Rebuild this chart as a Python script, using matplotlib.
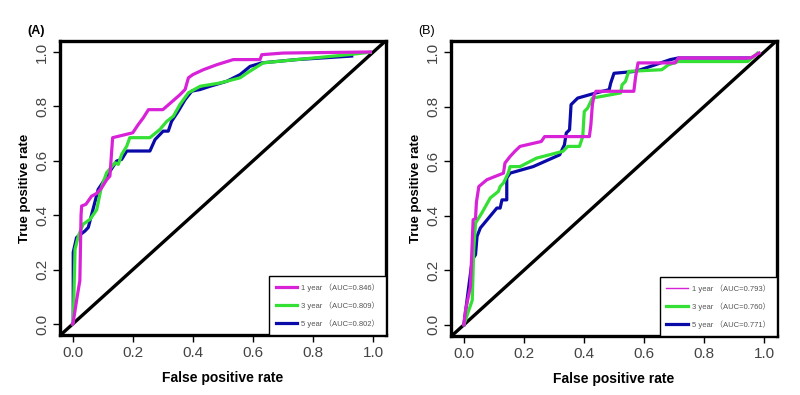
import matplotlib
matplotlib.use('Agg')
import matplotlib.pyplot as plt

plt.rcParams['font.family'] = ['Liberation Sans', 'Noto Sans CJK SC', 'DejaVu Sans']

# ---- data ----
# Panel A
a1_fpr = [0.0, 0.002, 0.015, 0.024, 0.028, 0.03, 0.044, 0.063, 0.08, 0.096, 0.113, 0.124, 0.133,
          0.2, 0.218, 0.235, 0.252, 0.30, 0.357, 0.374, 0.385, 0.40, 0.435, 0.479, 0.534,
          0.623, 0.629, 0.70, 0.99]
a1_tpr = [0.0, 0.007, 0.10, 0.16, 0.40, 0.434, 0.44, 0.47, 0.48, 0.50, 0.53, 0.544, 0.685,
          0.703, 0.733, 0.758, 0.788, 0.788, 0.843, 0.862, 0.905, 0.917, 0.935, 0.953, 0.972,
          0.972, 0.99, 0.996, 1.0]
a3_fpr = [0.0, 0.002, 0.008, 0.019, 0.035, 0.058, 0.08, 0.095, 0.113, 0.141, 0.152, 0.163, 0.18,
          0.19, 0.257, 0.29, 0.313, 0.335, 0.357, 0.385, 0.424, 0.49, 0.557, 0.579, 0.634,
          0.745, 0.917, 0.99]
a3_tpr = [0.0, 0.007, 0.275, 0.324, 0.367, 0.385, 0.42, 0.50, 0.556, 0.593, 0.587, 0.623, 0.654,
          0.685, 0.685, 0.715, 0.745, 0.764, 0.807, 0.85, 0.874, 0.886, 0.905, 0.922, 0.96,
          0.972, 0.99, 0.999]
a5_fpr = [0.0, 0.002, 0.002, 0.013, 0.041, 0.052, 0.085, 0.096, 0.135, 0.146, 0.163, 0.18, 0.257,
          0.274, 0.301, 0.318, 0.329, 0.351, 0.374, 0.396, 0.424, 0.457, 0.512, 0.557, 0.59,
          0.629, 0.745, 0.928]
a5_tpr = [0.0, 0.007, 0.264, 0.318, 0.342, 0.355, 0.495, 0.513, 0.58, 0.599, 0.605, 0.636, 0.636,
          0.678, 0.709, 0.709, 0.745, 0.782, 0.825, 0.856, 0.862, 0.874, 0.892, 0.917, 0.947,
          0.96, 0.972, 0.985]

# Panel B
b1_fpr = [0.0, 0.006, 0.022, 0.031, 0.039, 0.042, 0.05, 0.077, 0.132, 0.137, 0.154, 0.17, 0.187,
          0.258, 0.269, 0.418, 0.423, 0.428, 0.434, 0.44, 0.566, 0.572, 0.58, 0.703, 0.714,
          0.955, 0.983]
b1_tpr = [0.0, 0.055, 0.14, 0.385, 0.39, 0.45, 0.507, 0.532, 0.556, 0.593, 0.617, 0.636, 0.654,
          0.672, 0.69, 0.69, 0.733, 0.807, 0.843, 0.856, 0.856, 0.91, 0.96, 0.96, 0.978,
          0.978, 0.996]
b3_fpr = [0.0, 0.028, 0.033, 0.039, 0.06, 0.088, 0.115, 0.121, 0.132, 0.148, 0.154, 0.187, 0.242,
          0.33, 0.346, 0.385, 0.396, 0.401, 0.412, 0.428, 0.522, 0.527, 0.538, 0.549, 0.659,
          0.681, 0.714, 0.945, 0.978]
b3_tpr = [0.0, 0.09, 0.275, 0.373, 0.41, 0.465, 0.489, 0.507, 0.52, 0.556, 0.58, 0.58, 0.611,
          0.636, 0.654, 0.654, 0.69, 0.782, 0.794, 0.831, 0.85, 0.88, 0.892, 0.929, 0.935,
          0.953, 0.965, 0.965, 0.996]
b5_fpr = [0.0, 0.028, 0.039, 0.044, 0.055, 0.11, 0.121, 0.127, 0.143, 0.143, 0.154, 0.231, 0.319,
          0.335, 0.341, 0.352, 0.357, 0.379, 0.44, 0.484, 0.489, 0.5, 0.572, 0.637, 0.687,
          0.714, 0.95]
b5_tpr = [0.0, 0.238, 0.257, 0.324, 0.355, 0.428, 0.428, 0.458, 0.458, 0.538, 0.556, 0.58, 0.623,
          0.66, 0.703, 0.715, 0.807, 0.831, 0.85, 0.862, 0.886, 0.922, 0.929, 0.953, 0.972,
          0.978, 0.978]

labels_a = ['1 year \uff08AUC=0.846\uff09', '3 year \uff08AUC=0.809\uff09', '5 year \uff08AUC=0.802\uff09']
labels_b = ['1 year \uff08AUC=0.793\uff09', '3 year \uff08AUC=0.760\uff09', '5 year \uff08AUC=0.771\uff09']

col1 = '#d822d8'
col3 = '#33e033'
col5 = '#0a0aa8'

fig = plt.figure(figsize=(8, 3.95), dpi=100)
axA = fig.add_axes([0.075, 0.152, 0.4075, 0.744])
axB = fig.add_axes([0.564, 0.150, 0.407, 0.746])


def draw_panel(ax, curves, labels, tag, tag_bold, leg_widths):
    ax.axline((0, 0), (1, 1), color='black', lw=2.4, zorder=1)
    hs = []
    # 5 year underneath, 1 year on top
    order = [2, 1, 0]
    cols = [col1, col3, col5]
    for i in order:
        fpr, tpr = curves[i]
        ax.plot(fpr, tpr, color=cols[i], lw=2.3, zorder=2 + (2 - i))
    for i in range(3):
        h, = ax.plot([], [], color=cols[i], lw=leg_widths[i])
        hs.append(h)
    ax.set_xlim(-0.042, 1.042)
    ax.set_ylim(-0.04, 1.04)
    ax.set_xticks([0.0, 0.2, 0.4, 0.6, 0.8, 1.0])
    ax.set_yticks([0.0, 0.2, 0.4, 0.6, 0.8, 1.0])
    ax.set_xticklabels(['0.0', '0.2', '0.4', '0.6', '0.8', '1.0'])
    ax.set_yticklabels(['0.0', '0.2', '0.4', '0.6', '0.8', '1.0'], rotation=90, va='center')
    ax.tick_params(labelsize=11, labelcolor='#444444', length=5, width=1, direction='out', pad=3)
    for s in ax.spines.values():
        s.set_linewidth(2.4)
    ax.set_xlabel('False positive rate', fontsize=10, fontweight='bold', labelpad=8)
    ax.set_ylabel('True positive rate', fontsize=9.5, fontweight='bold', labelpad=3)
    leg = ax.legend(hs, labels, loc='lower right', borderaxespad=0, fancybox=False,
                    edgecolor='black', fontsize=5.5, handlelength=2.8, labelspacing=1.25,
                    borderpad=0.9, handletextpad=0.5, framealpha=1)
    leg.get_frame().set_linewidth(1.0)
    for t in leg.get_texts():
        t.set_color('#555555')
    ax.text(-0.1, 1.015, tag, transform=ax.transAxes, fontsize=9,
            fontweight='bold' if tag_bold else 'normal', ha='left', va='bottom')


draw_panel(axA, [(a1_fpr, a1_tpr), (a3_fpr, a3_tpr), (a5_fpr, a5_tpr)], labels_a, '(A)', True,
           [2.3, 2.3, 2.3])
draw_panel(axB, [(b1_fpr, b1_tpr), (b3_fpr, b3_tpr), (b5_fpr, b5_tpr)], labels_b, '(B)', False,
           [1.0, 2.3, 2.3])

fig.savefig('out.png', dpi=100)
